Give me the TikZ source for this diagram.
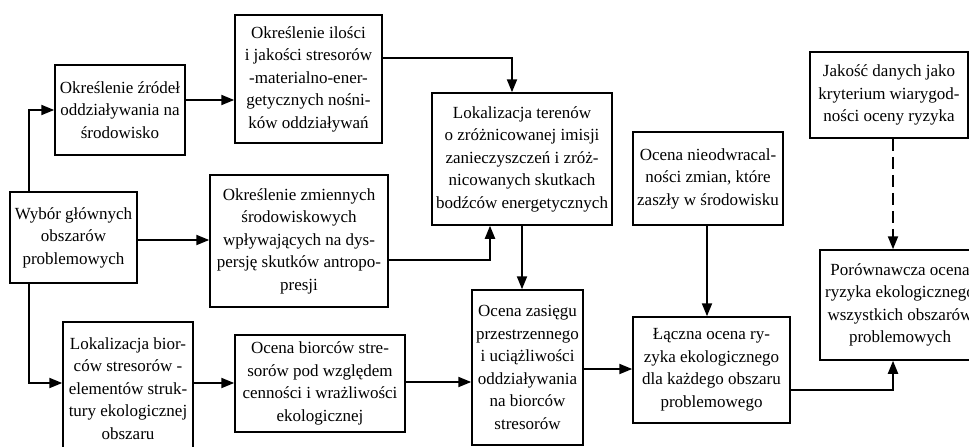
\documentclass[tikz,border=0pt]{standalone}
\usepackage{fontspec}
\setmainfont{Liberation Serif}
\usetikzlibrary{arrows.meta}
\begin{document}
\begin{tikzpicture}[x=1pt,y=-1pt,
  box/.style={draw,line width=1.5pt,align=center,inner sep=1pt,
    font=\fontsize{17}{22.5}\selectfont},
  arr/.style={line width=2pt,-{Triangle[length=13pt,width=10pt]}}]
\useasboundingbox (0,0) rectangle (969,447);
\node[box,minimum width=130,minimum height=90] (b1) at (120,110)
  {Określenie źródeł\\oddziaływania na\\środowisko};
\node[box,minimum width=147,minimum height=128] (b2) at (308.5,79)
  {Określenie ilości\\i jakości stresorów\\-materialno-ener-\\getycznych nośni-\\ków oddziaływań};
\node[box,minimum width=180,minimum height=132] (b3) at (522,159)
  {Lokalizacja terenów\\o zróżnicowanej imisji\\zanieczyszczeń i zróż-\\nicowanych skutkach\\bodźców energetycznych};
\node[box,minimum width=127,minimum height=91] (b4) at (73.5,237.5)
  {Wybór głównych\\obszarów\\problemowych};
\node[box,minimum width=178,minimum height=132] (b5) at (299,241)
  {Określenie zmiennych\\środowiskowych\\wpływających na dys-\\persję skutków antropo-\\presji};
\node[box,minimum width=130,minimum height=133] (b6) at (128,388.5)
  {Lokalizacja bior-\\ców stresorów -\\elementów struk-\\tury ekologicznej\\obszaru};
\node[box,minimum width=170,minimum height=97] (b7) at (320,383.5)
  {Ocena biorców stre-\\sorów pod względem\\cenności i wrażliwości\\ekologicznej};
\node[box,minimum width=111,minimum height=155] (b8) at (527.5,367.5)
  {Ocena zasięgu\\przestrzennego\\i uciążliwości\\oddziaływania\\na biorców\\stresorów};
\node[box,minimum width=150,minimum height=93] (b9) at (708,178.5)
  {Ocena nieodwracal-\\ności zmian, które\\zaszły w środowisku};
\node[box,minimum width=157,minimum height=106] (b10) at (711.5,370)
  {Łączna ocena ry-\\zyka ekologicznego\\dla każdego obszaru\\problemowego};
\node[box,minimum width=158,minimum height=86] (b11) at (889,95)
  {Jakość danych jako\\kryterium wiarygod-\\ności oceny ryzyka};
\node[box,minimum width=160,minimum height=110] (b12) at (900,305)
  {Porównawcza ocena\\ryzyka ekologicznego\\wszystkich obszarów\\problemowych};
\draw[arr] ([xshift=20pt]b4.north west) |- (b1.west);
\draw[arr] ([xshift=20pt]b4.south west) |- (b6.west |- 0,383);
\draw[arr] (b4.east |- 0,240) -- (b5.west |- 0,240);
\draw[arr] (b1.east |- 0,100) -- (b2.west |- 0,100);
\draw[arr] (b2.east |- 0,58) -| (b3.north -| 512,0);
\draw[arr] (b5.east |- 0,260) -| (b3.south -| 490,0);
\draw[arr] (b3.south -| 522,0) -- (b8.north -| 522,0);
\draw[arr] (b6.east |- 0,383) -- (b7.west |- 0,383);
\draw[arr] (b7.east |- 0,382) -- (b8.west |- 0,382);
\draw[arr] (b8.east |- 0,369) -- (b10.west |- 0,369);
\draw[arr] (b9.south -| 707,0) -- (b10.north -| 707,0);
\draw[arr] (b10.east |- 0,390) -| (b12.south -| 893,0);
\draw[arr,dash pattern=on 12pt off 6pt] (b11.south -| 893,0) -- (b12.north -| 893,0);
\end{tikzpicture}
\end{document}
